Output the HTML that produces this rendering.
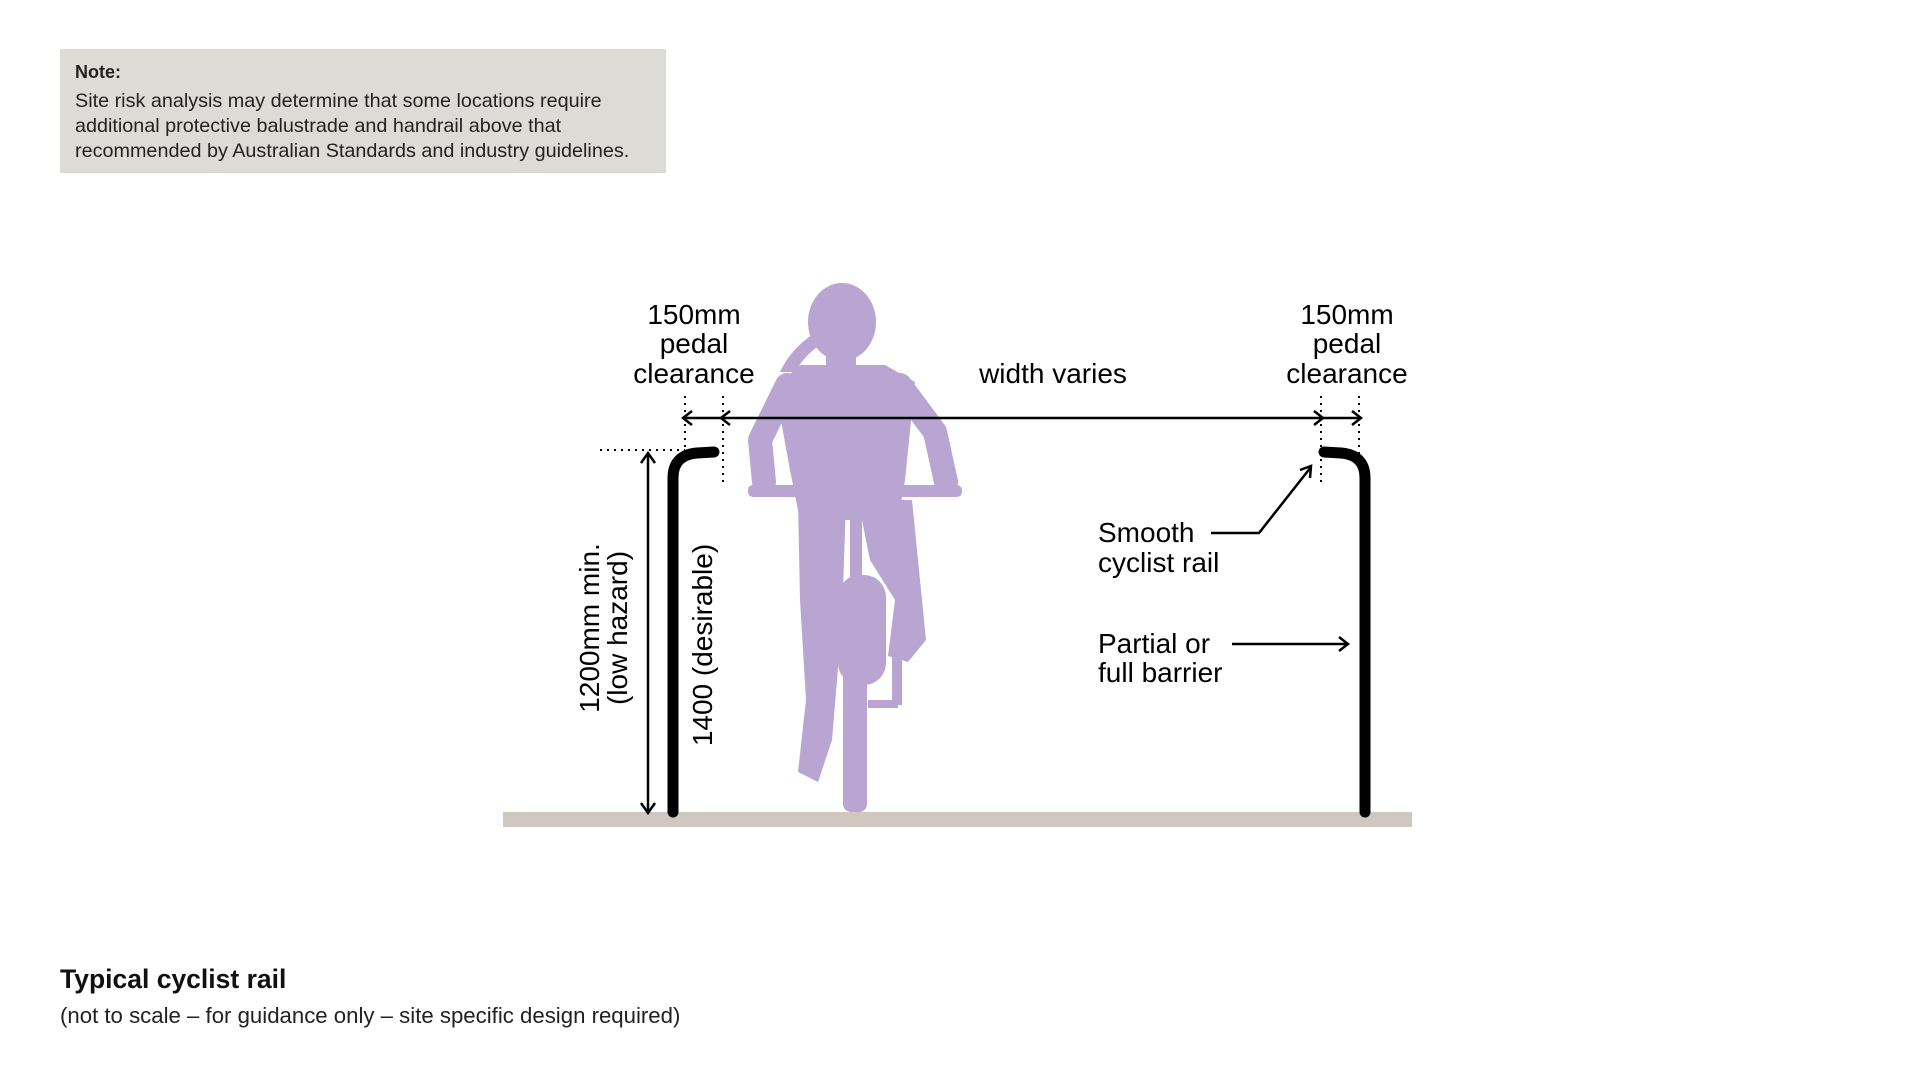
<!DOCTYPE html>
<html><head><meta charset="utf-8"><style>
body{margin:0;background:#fff;width:1920px;height:1080px;overflow:hidden;font-family:"Liberation Sans",Arial,sans-serif;}
.note{position:absolute;left:60px;top:49px;width:606px;height:124px;background:#dcdbd5;box-sizing:border-box;padding:11px 15px;color:#222;font-size:19.8px;line-height:25px;letter-spacing:0;white-space:nowrap;}
.note b{display:block;margin-bottom:4px;font-size:18px;}
.t{position:absolute;left:60px;top:964px;font-size:26.5px;font-weight:bold;color:#111;}
.s{position:absolute;left:60px;top:1003px;font-size:22.2px;color:#222;}
</style></head><body>
<div class="note"><b>Note:</b>Site risk analysis may determine that some locations require<br>additional protective balustrade and handrail above that<br>recommended by Australian Standards and industry guidelines.</div>
<svg width="1920" height="1080" style="position:absolute;left:0;top:0" font-family="Liberation Sans, Arial, sans-serif">
<rect x="503" y="812" width="909" height="15" fill="#cfc8c0"/>
<g fill="#b8a5d1" stroke="none">
<ellipse cx="842" cy="322" rx="34" ry="39"/>
<rect x="826" y="345" width="30" height="28"/>
<path d="M812 335 Q790 350 780 372 L795 372 Q805 355 820 345Z"/>
<polygon points="800,365 885,365 915,382 905,480 898,520 800,520 790,470 775,388"/>
<polyline points="787,385 760,440 764,482" fill="none" stroke="#b8a5d1" stroke-width="24" stroke-linecap="round" stroke-linejoin="round"/>
<polyline points="900,385 935,432 946,482" fill="none" stroke="#b8a5d1" stroke-width="24" stroke-linecap="round" stroke-linejoin="round"/>
<rect x="748" y="485" width="214" height="12" rx="5"/>
<polygon points="798,500 846,500 842,620 832,740 818,782 798,772 806,700 800,600"/>
<polygon points="858,500 912,500 918,560 926,640 908,662 888,656 895,600 870,560"/>
<rect x="892" y="655" width="10" height="50"/>
<rect x="868" y="700" width="30" height="8"/>
<rect x="838" y="575" width="48" height="110" rx="22"/>
<rect x="843" y="600" width="24" height="212" rx="8"/>
<rect x="850" y="500" width="12" height="100"/>
</g>
<g fill="none" stroke="#000" stroke-width="11" stroke-linecap="round">
<path d="M673 812 L673 478 Q673 455 697 453 L714 452"/>
<path d="M1365 812 L1365 478 Q1365 455 1341 453 L1324 452"/>
</g>
<g stroke="#000" stroke-width="2" fill="none" stroke-dasharray="2,5">
<line x1="685" y1="396" x2="685" y2="455"/>
<line x1="723" y1="396" x2="723" y2="485"/>
<line x1="1321" y1="396" x2="1321" y2="485"/>
<line x1="1359" y1="396" x2="1359" y2="455"/>
<line x1="600" y1="450" x2="685" y2="450"/>
</g>
<g stroke="#000" stroke-width="2.5" fill="none">
<line x1="683" y1="418" x2="1361" y2="418"/>
<polyline points="692,411 683,418 692,425"/>
<polyline points="730,411 721,418 730,425"/>
<polyline points="1314,411 1323,418 1314,425"/>
<polyline points="1352,411 1361,418 1352,425"/>
<line x1="648" y1="454" x2="648" y2="812"/>
<polyline points="641,463 648,453 655,463"/>
<polyline points="641,803 648,813 655,803"/>
<polyline points="1211,533 1259,533 1311,467"/>
<polyline points="1300,470 1311,466 1310,478"/>
<line x1="1232" y1="644" x2="1347" y2="644"/>
<polyline points="1339,637 1348,644 1339,651"/>
</g>
<g font-size="28" fill="#000" text-anchor="middle">
<text x="694" y="324">150mm</text><text x="694" y="353">pedal</text><text x="694" y="383">clearance</text>
<text x="1347" y="324">150mm</text><text x="1347" y="353">pedal</text><text x="1347" y="383">clearance</text>
<text x="1053" y="383">width varies</text>
<g transform="translate(602,628) rotate(-90)"><text x="0" y="-3">1200mm min.</text><text x="0" y="25">(low hazard)</text></g>
<text transform="translate(712,645) rotate(-90)" x="0" y="0">1400 (desirable)</text>
</g>
<g font-size="28" fill="#000">
<text x="1098" y="542">Smooth</text><text x="1098" y="572">cyclist rail</text>
<text x="1098" y="653">Partial or</text><text x="1098" y="682">full barrier</text>
</g>
</svg>
<div class="t">Typical cyclist rail</div>
<div class="s">(not to scale – for guidance only – site specific design required)</div>
</body></html>
